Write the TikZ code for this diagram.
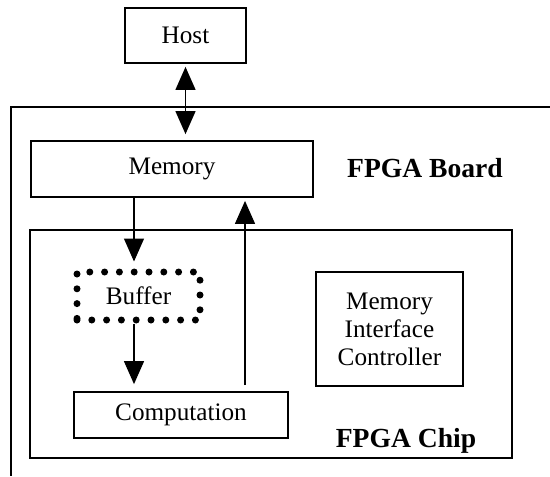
\documentclass[tikz,border=0pt]{standalone}
\usepackage{fontspec}
\setmainfont{Liberation Serif}
\usetikzlibrary{arrows.meta}

\begin{document}
\begin{tikzpicture}[x=0.5pt, y=-0.5pt,
    box/.style={draw, line width=0.9pt, inner sep=0pt, align=center,
      font=\fontsize{12.6}{14}\selectfont},
    dotbox/.style={draw, line width=3.5pt, line cap=round,
      dash pattern=on 0pt off 7.4pt, inner sep=0pt,
      font=\fontsize{12.6}{14}\selectfont},
    flow/.style={line width=0.65pt, -{Triangle[width=10pt,length=11.5pt]}},
    title/.style={font=\fontsize{13.8}{16}\selectfont\bfseries}]
  \useasboundingbox (0,0) rectangle (550,476);

  %%%%% board %%%%%
  % outline runs off the page to the right and bottom
  \draw[line width=0.9pt] (550,107) -- (11,107) -- (11,476);
  \node[title] (boardlbl) at (425,168) {FPGA Board};

  \node[box, minimum width=60.5pt, minimum height=27.5pt] (host) at (185.5,35.5) {Host};
  \node[box, minimum width=141pt, minimum height=28pt] (memory) at (172,169) {Memory};

  %%%%% chip %%%%%
  \node[box, minimum width=241pt, minimum height=114pt] (chip) at (271,344) {};
  \node[title] (chiplbl) at (406,441) {FPGA Chip};

  \node[dotbox, minimum width=61.5pt, minimum height=24pt] (buffer) at (138.5,296) {Buffer};
  \node[box, minimum width=107pt, minimum height=23pt] (comp) at (181,415) {Computation};
  \node[box, minimum width=73.5pt, minimum height=57pt] (mic) at (389.5,329)
    {Memory\\Interface\\Controller};

  %%%%% data paths %%%%%
  \coordinate (down) at (134,0);
  \coordinate (up) at (245,0);

  \draw[flow, {Triangle[width=10pt,length=11.5pt]}-{Triangle[width=10pt,length=11.5pt]},
    shorten <=1.5pt, shorten >=3pt] (host.south) -- (host.south |- memory.north);
  \draw[flow, shorten >=3.5pt] (memory.south -| down) -- (buffer.north -| down);
  \draw[flow, shorten >=3.5pt] (buffer.south -| down) -- (comp.north -| down);
  \draw[flow, shorten <=3pt, shorten >=1.5pt] (comp.north -| up) -- (memory.south -| up);
\end{tikzpicture}
\end{document}
